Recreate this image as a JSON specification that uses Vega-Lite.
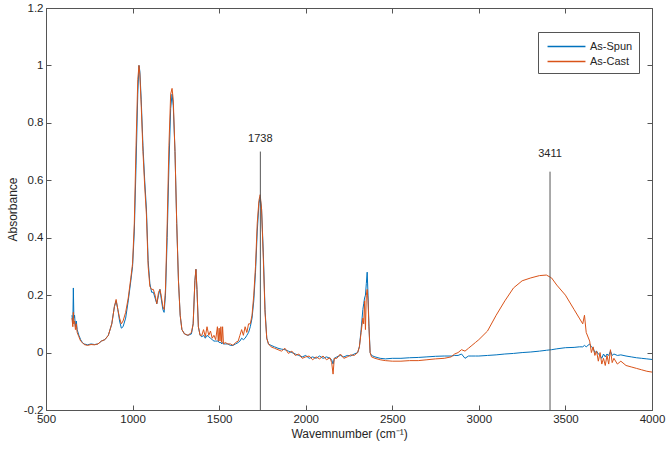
{
  "$schema": "https://vega.github.io/schema/vega-lite/v6.json",
  "width": 606,
  "height": 402,
  "autosize": {"type": "none"},
  "padding": {"left": 46, "top": 8, "right": 14, "bottom": 46},
  "background": "white",
  "config": {
    "view": {"stroke": "#555555", "strokeWidth": 1},
    "font": "Liberation Sans",
    "axis": {"grid": false, "domainColor": "#555555", "tickColor": "#555555", "labelColor": "#262626", "titleColor": "#262626", "labelFontSize": 11.5, "titleFontSize": 12, "titleFontWeight": "normal", "tickSize": -5, "labelFont": "Liberation Sans", "titleFont": "Liberation Sans"}
  },
  "datasets": {
    "spec": [
      {"w":650,"spun":0.13,"cast":0.12},{"w":655,"spun":0.10,"cast":0.09},{"w":658,"spun":0.225,"cast":0.14},{"w":661,"spun":0.12,"cast":0.10},{"w":665,"spun":0.13,"cast":0.11},{"w":670,"spun":0.09,"cast":0.08},{"w":675,"spun":0.11,"cast":0.10},{"w":680,"spun":0.08,"cast":0.07},{"w":690,"spun":0.06,"cast":0.055},{"w":700,"spun":0.045,"cast":0.04},{"w":710,"spun":0.035,"cast":0.035},{"w":720,"spun":0.03,"cast":0.028},{"w":740,"spun":0.027,"cast":0.025},{"w":760,"spun":0.03,"cast":0.028},{"w":780,"spun":0.028,"cast":0.027},{"w":800,"spun":0.03,"cast":0.03},{"w":820,"spun":0.04,"cast":0.04},{"w":840,"spun":0.045,"cast":0.045},{"w":860,"spun":0.06,"cast":0.06},{"w":880,"spun":0.1,"cast":0.1},{"w":895,"spun":0.16,"cast":0.16},{"w":905,"spun":0.18,"cast":0.185},{"w":915,"spun":0.15,"cast":0.15},{"w":925,"spun":0.11,"cast":0.12},{"w":935,"spun":0.085,"cast":0.10},{"w":945,"spun":0.09,"cast":0.11},{"w":960,"spun":0.12,"cast":0.14},{"w":975,"spun":0.18,"cast":0.19},{"w":990,"spun":0.25,"cast":0.26},{"w":1000,"spun":0.3,"cast":0.31},{"w":1010,"spun":0.42,"cast":0.45},{"w":1020,"spun":0.65,"cast":0.72},{"w":1030,"spun":0.9,"cast":0.95},{"w":1037,"spun":1.0,"cast":1.0},{"w":1042,"spun":0.98,"cast":0.97},{"w":1050,"spun":0.88,"cast":0.86},{"w":1060,"spun":0.72,"cast":0.7},{"w":1070,"spun":0.6,"cast":0.58},{"w":1080,"spun":0.5,"cast":0.48},{"w":1090,"spun":0.32,"cast":0.3},{"w":1100,"spun":0.24,"cast":0.23},{"w":1110,"spun":0.21,"cast":0.22},{"w":1120,"spun":0.21,"cast":0.22},{"w":1130,"spun":0.19,"cast":0.2},{"w":1140,"spun":0.17,"cast":0.17},{"w":1150,"spun":0.2,"cast":0.21},{"w":1158,"spun":0.22,"cast":0.22},{"w":1165,"spun":0.19,"cast":0.2},{"w":1175,"spun":0.15,"cast":0.16},{"w":1182,"spun":0.14,"cast":0.15},{"w":1190,"spun":0.2,"cast":0.22},{"w":1200,"spun":0.4,"cast":0.45},{"w":1210,"spun":0.65,"cast":0.72},{"w":1220,"spun":0.85,"cast":0.9},{"w":1228,"spun":0.9,"cast":0.92},{"w":1235,"spun":0.86,"cast":0.88},{"w":1245,"spun":0.7,"cast":0.7},{"w":1255,"spun":0.45,"cast":0.45},{"w":1265,"spun":0.25,"cast":0.25},{"w":1275,"spun":0.13,"cast":0.13},{"w":1285,"spun":0.08,"cast":0.08},{"w":1300,"spun":0.065,"cast":0.065},{"w":1320,"spun":0.06,"cast":0.06},{"w":1340,"spun":0.065,"cast":0.07},{"w":1350,"spun":0.1,"cast":0.1},{"w":1360,"spun":0.25,"cast":0.25},{"w":1366,"spun":0.29,"cast":0.29},{"w":1372,"spun":0.22,"cast":0.22},{"w":1380,"spun":0.09,"cast":0.09},{"w":1390,"spun":0.06,"cast":0.06},{"w":1400,"spun":0.055,"cast":0.06},{"w":1410,"spun":0.06,"cast":0.08},{"w":1420,"spun":0.05,"cast":0.055},{"w":1430,"spun":0.06,"cast":0.09},{"w":1440,"spun":0.055,"cast":0.06},{"w":1450,"spun":0.05,"cast":0.075},{"w":1460,"spun":0.045,"cast":0.05},{"w":1470,"spun":0.04,"cast":0.06},{"w":1480,"spun":0.04,"cast":0.045},{"w":1490,"spun":0.04,"cast":0.09},{"w":1495,"spun":0.04,"cast":0.04},{"w":1500,"spun":0.035,"cast":0.085},{"w":1505,"spun":0.035,"cast":0.04},{"w":1510,"spun":0.035,"cast":0.09},{"w":1515,"spun":0.03,"cast":0.035},{"w":1520,"spun":0.035,"cast":0.09},{"w":1525,"spun":0.03,"cast":0.03},{"w":1535,"spun":0.03,"cast":0.035},{"w":1550,"spun":0.03,"cast":0.03},{"w":1565,"spun":0.025,"cast":0.03},{"w":1580,"spun":0.025,"cast":0.025},{"w":1595,"spun":0.03,"cast":0.035},{"w":1610,"spun":0.035,"cast":0.04},{"w":1620,"spun":0.04,"cast":0.06},{"w":1630,"spun":0.05,"cast":0.08},{"w":1640,"spun":0.045,"cast":0.06},{"w":1650,"spun":0.05,"cast":0.09},{"w":1660,"spun":0.06,"cast":0.07},{"w":1670,"spun":0.07,"cast":0.1},{"w":1680,"spun":0.09,"cast":0.1},{"w":1690,"spun":0.12,"cast":0.13},{"w":1700,"spun":0.18,"cast":0.2},{"w":1710,"spun":0.28,"cast":0.3},{"w":1720,"spun":0.42,"cast":0.45},{"w":1730,"spun":0.52,"cast":0.53},{"w":1737,"spun":0.54,"cast":0.55},{"w":1745,"spun":0.5,"cast":0.5},{"w":1755,"spun":0.35,"cast":0.33},{"w":1765,"spun":0.15,"cast":0.14},{"w":1775,"spun":0.05,"cast":0.05},{"w":1785,"spun":0.03,"cast":0.03},{"w":1800,"spun":0.025,"cast":0.02},{"w":1820,"spun":0.02,"cast":0.015},{"w":1840,"spun":0.015,"cast":0.01},{"w":1860,"spun":0.012,"cast":0.005},{"w":1880,"spun":0.01,"cast":0.015},{"w":1900,"spun":0.005,"cast":-0.003},{"w":1920,"spun":0.0,"cast":0.005},{"w":1940,"spun":-0.005,"cast":-0.01},{"w":1960,"spun":-0.01,"cast":-0.005},{"w":1980,"spun":-0.015,"cast":-0.02},{"w":2000,"spun":-0.01,"cast":-0.015},{"w":2020,"spun":-0.02,"cast":-0.012},{"w":2040,"spun":-0.015,"cast":-0.025},{"w":2060,"spun":-0.02,"cast":-0.015},{"w":2080,"spun":-0.012,"cast":-0.022},{"w":2100,"spun":-0.02,"cast":-0.012},{"w":2120,"spun":-0.015,"cast":-0.025},{"w":2140,"spun":-0.02,"cast":-0.018},{"w":2150,"spun":-0.025,"cast":-0.035},{"w":2158,"spun":-0.04,"cast":-0.075},{"w":2165,"spun":-0.02,"cast":-0.02},{"w":2180,"spun":-0.015,"cast":-0.02},{"w":2200,"spun":-0.01,"cast":-0.005},{"w":2220,"spun":-0.015,"cast":-0.02},{"w":2240,"spun":-0.01,"cast":-0.015},{"w":2260,"spun":-0.012,"cast":-0.008},{"w":2280,"spun":-0.005,"cast":-0.01},{"w":2300,"spun":0.0,"cast":0.0},{"w":2310,"spun":0.02,"cast":0.02},{"w":2320,"spun":0.08,"cast":0.07},{"w":2330,"spun":0.15,"cast":0.12},{"w":2335,"spun":0.17,"cast":0.1},{"w":2340,"spun":0.19,"cast":0.18},{"w":2345,"spun":0.2,"cast":0.08},{"w":2350,"spun":0.24,"cast":0.2},{"w":2355,"spun":0.28,"cast":0.22},{"w":2360,"spun":0.2,"cast":0.18},{"w":2365,"spun":0.1,"cast":0.09},{"w":2372,"spun":0.0,"cast":0.0},{"w":2380,"spun":-0.01,"cast":-0.015},{"w":2400,"spun":-0.015,"cast":-0.02},{"w":2430,"spun":-0.02,"cast":-0.025},{"w":2460,"spun":-0.022,"cast":-0.028},{"w":2500,"spun":-0.02,"cast":-0.03},{"w":2550,"spun":-0.02,"cast":-0.03},{"w":2600,"spun":-0.018,"cast":-0.028},{"w":2650,"spun":-0.017,"cast":-0.028},{"w":2700,"spun":-0.015,"cast":-0.025},{"w":2750,"spun":-0.013,"cast":-0.022},{"w":2800,"spun":-0.012,"cast":-0.02},{"w":2840,"spun":-0.012,"cast":-0.015},{"w":2860,"spun":-0.01,"cast":-0.005},{"w":2880,"spun":-0.01,"cast":0.0},{"w":2900,"spun":-0.005,"cast":0.01},{"w":2920,"spun":-0.02,"cast":0.005},{"w":2940,"spun":-0.012,"cast":0.015},{"w":2960,"spun":-0.012,"cast":0.025},{"w":2980,"spun":-0.012,"cast":0.035},{"w":3000,"spun":-0.012,"cast":0.045},{"w":3050,"spun":-0.01,"cast":0.075},{"w":3100,"spun":-0.008,"cast":0.13},{"w":3150,"spun":-0.005,"cast":0.18},{"w":3200,"spun":-0.003,"cast":0.225},{"w":3250,"spun":0.0,"cast":0.25},{"w":3300,"spun":0.002,"cast":0.26},{"w":3350,"spun":0.005,"cast":0.268},{"w":3390,"spun":0.008,"cast":0.27},{"w":3420,"spun":0.01,"cast":0.26},{"w":3450,"spun":0.013,"cast":0.235},{"w":3500,"spun":0.017,"cast":0.2},{"w":3550,"spun":0.018,"cast":0.15},{"w":3580,"spun":0.02,"cast":0.12},{"w":3600,"spun":0.02,"cast":0.1},{"w":3610,"spun":0.025,"cast":0.13},{"w":3620,"spun":0.02,"cast":0.07},{"w":3640,"spun":0.03,"cast":0.04},{"w":3650,"spun":0.02,"cast":0.0},{"w":3660,"spun":0.015,"cast":0.02},{"w":3670,"spun":0.0,"cast":-0.01},{"w":3680,"spun":0.005,"cast":0.005},{"w":3690,"spun":-0.005,"cast":-0.03},{"w":3700,"spun":-0.01,"cast":0.0},{"w":3710,"spun":-0.02,"cast":-0.04},{"w":3720,"spun":-0.005,"cast":-0.02},{"w":3730,"spun":-0.015,"cast":-0.045},{"w":3740,"spun":-0.005,"cast":-0.01},{"w":3750,"spun":-0.01,"cast":-0.04},{"w":3760,"spun":0.005,"cast":0.01},{"w":3770,"spun":-0.01,"cast":-0.035},{"w":3780,"spun":-0.005,"cast":-0.02},{"w":3800,"spun":-0.01,"cast":-0.04},{"w":3820,"spun":-0.008,"cast":-0.03},{"w":3850,"spun":-0.012,"cast":-0.045},{"w":3880,"spun":-0.015,"cast":-0.05},{"w":3910,"spun":-0.018,"cast":-0.055},{"w":3940,"spun":-0.02,"cast":-0.06},{"w":3970,"spun":-0.022,"cast":-0.065},{"w":4000,"spun":-0.024,"cast":-0.068}
    ],
    "marks": [
      {"w": 1738, "top": 0.7, "ly": 0.745, "label": "1738"},
      {"w": 3411, "top": 0.63, "ly": 0.69, "label": "3411"}
    ]
  },
  "resolve": {"axis": {"x": "independent", "y": "independent"}},
  "layer": [
    {
      "data": {"name": "spec"},
      "transform": [
        {"fold": ["spun", "cast"], "as": ["series", "a"]},
        {"lookup": "series", "from": {"data": {"values": [{"k": "spun", "name": "As-Spun", "o": 0}, {"k": "cast", "name": "As-Cast", "o": 1}]}, "key": "k", "fields": ["name", "o"]}}
      ],
      "mark": {"type": "line", "strokeWidth": 1, "clip": true},
      "encoding": {
        "x": {"field": "w", "type": "quantitative", "scale": {"domain": [500, 4000], "nice": false}, "axis": {"values": [500, 1000, 1500, 2000, 2500, 3000, 3500, 4000], "format": "d", "title": "Wavemnumber (cm⁻¹)", "labelPadding": 8, "titlePadding": 4, "labelFlush": false}},
        "y": {"field": "a", "type": "quantitative", "scale": {"domain": [-0.2, 1.2], "nice": false, "zero": false}, "axis": {"values": [-0.2, 0, 0.2, 0.4, 0.6, 0.8, 1, 1.2], "format": "~g", "title": "Absorbance", "labelPadding": 8, "titlePadding": 4, "labelExpr": "replace(datum.label, '\u2212', '-')", "labelFlush": false}},
        "color": {"field": "name", "type": "nominal", "sort": ["As-Spun", "As-Cast"], "scale": {"domain": ["As-Spun", "As-Cast"], "range": ["#0072BD", "#D95319"]}, "legend": {"title": null, "orient": "none", "legendX": 492, "legendY": 24, "strokeColor": "#555555", "fillColor": "white", "padding": 6, "symbolType": "M-2.5,0H2.5", "symbolSize": 230, "symbolOffset": 14, "symbolStrokeWidth": 1.5, "labelFontSize": 11, "labelColor": "#262626", "rowPadding": 1, "labelOffset": 15, "labelFont": "Liberation Sans"}},
        "order": {"field": "o", "type": "quantitative"}
      }
    },
    {
      "data": {"name": "marks"},
      "mark": {"type": "rule", "color": "#555555", "strokeWidth": 1},
      "encoding": {
        "x": {"field": "w", "type": "quantitative", "scale": {"domain": [500, 4000], "nice": false}, "axis": {"orient": "top", "values": [500, 1000, 1500, 2000, 2500, 3000, 3500, 4000], "labels": false, "title": null, "domain": false}},
        "y": {"field": "top", "type": "quantitative", "scale": {"domain": [-0.2, 1.2], "nice": false, "zero": false}, "axis": {"orient": "right", "values": [-0.2, 0, 0.2, 0.4, 0.6, 0.8, 1, 1.2], "labels": false, "title": null, "domain": false}},
        "y2": {"datum": -0.2}
      }
    },
    {
      "data": {"name": "marks"},
      "mark": {"type": "text", "fontSize": 11, "color": "#262626", "baseline": "middle", "align": "center", "font": "Liberation Sans"},
      "encoding": {
        "x": {"field": "w", "type": "quantitative", "axis": null},
        "y": {"field": "ly", "type": "quantitative", "axis": null},
        "text": {"field": "label"}
      }
    }
  ]
}
